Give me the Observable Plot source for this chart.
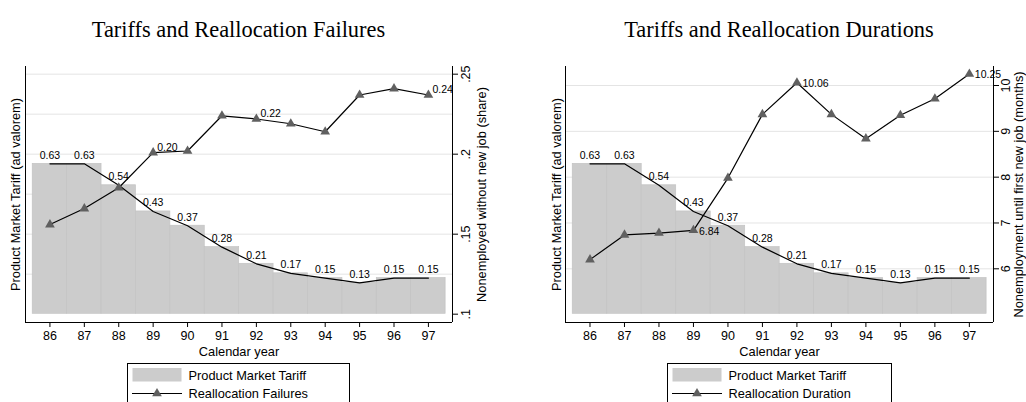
<!DOCTYPE html>
<html><head><meta charset="utf-8">
<script src="https://cdn.jsdelivr.net/npm/d3@7"></script>
<script src="https://cdn.jsdelivr.net/npm/@observablehq/plot@0.6"></script>
<style>
body{margin:0;background:#fff;width:1026px;height:402px;overflow:hidden;font-family:"Liberation Sans",Arial,sans-serif;}
#root{position:relative;width:1026px;height:402px;overflow:hidden;}
.panel{position:absolute;top:0;width:513px;height:402px;}
.title{position:absolute;top:19px;font-family:"Liberation Serif","Times New Roman",serif;font-size:22.4px;line-height:22px;white-space:nowrap;transform:translateX(-50%);color:#000;}
</style></head><body><div id="root"></div>
<script>
// ---- data ----
const years = [86, 87, 88, 89, 90, 91, 92, 93, 94, 95, 96, 97];
const tariff = [0.63, 0.63, 0.54, 0.43, 0.37, 0.28, 0.21, 0.17, 0.15, 0.13, 0.15, 0.15];
const failures = [0.156, 0.166, 0.179, 0.201, 0.202, 0.224, 0.222, 0.219, 0.214, 0.237, 0.241, 0.237];
const failureLabels = ["", "", "", "0.20", "", "", "0.22", "", "", "", "", "0.24"];
const duration = [6.20, 6.74, 6.78, 6.84, 7.98, 9.37, 10.06, 9.37, 8.84, 9.35, 9.71, 10.25];
const durationLabels = ["", "", "", "6.84", "", "", "10.06", "", "", "", "", "10.25"];
const failureTicks = [0.1, 0.15, 0.2, 0.25];
const failureGrid = [0.125, 0.15, 0.175, 0.2, 0.225, 0.25];
const durationTicks = [6, 7, 8, 9, 10];
const durationGrid = [6, 7, 8, 9, 10];
const titles = ["Tariffs and Reallocation Failures", "Tariffs and Reallocation Durations"];
const xTitle = "Calendar year";
const leftTitle = "Product Market Tariff (ad valorem)";
const rightTitles = ["Nonemployed without new job (share)", "Nonemployment until first new job (months)"];
const legendLabels = ["Product Market Tariff", "Reallocation Failures", "Reallocation Duration"];

// ---- layout ----
const xDomain = [85.29, 97.70];
const tariffDomain = [-0.0366, 1.039];
const FONT = "'Liberation Sans', Arial, sans-serif";
const root = document.getElementById("root");

function layer(panel, opts) {
  const svg = Plot.plot(opts);
  svg.style.position = "absolute";
  svg.style.left = "0px";
  svg.style.top = "0px";
  panel.appendChild(svg);
}

function makePanel(cfg) {
  const panel = document.createElement("div");
  panel.className = "panel";
  panel.style.left = cfg.left + "px";
  root.appendChild(panel);
  const common = {
    width: 513, height: 402, marginTop: 66, marginBottom: 80,
    marginLeft: cfg.ml, marginRight: cfg.mr,
    style: {background: "transparent", fontFamily: FONT, fontSize: "12.5px", color: "#000", overflow: "visible"}
  };
  const tRows = years.map((year, i) => ({year, v: tariff[i]}));
  const sRows = years.map((year, i) => ({year, v: cfg.series[i], label: cfg.labels[i]}));

  // gridlines (secondary scale)
  layer(panel, {...common, x: {domain: xDomain, axis: null}, y: {domain: cfg.rDomain, axis: null},
    marks: [Plot.ruleY(cfg.grid, {stroke: "#e4e4e4", strokeWidth: 1})]});

  // tariff bars + line
  layer(panel, {...common, x: {domain: xDomain}, y: {domain: tariffDomain, axis: null},
    marks: [
      Plot.rectY(tRows, {x1: d => d.year - 0.5, x2: d => d.year + 0.5, y1: 0, y2: "v", fill: "#cccccc", stroke: "#c3c3c3", strokeWidth: 0.7}),
      Plot.line(tRows, {x: "year", y: "v", stroke: "#000", strokeWidth: 1.2}),
      Plot.text(tRows, {x: "year", y: "v", text: d => d.v.toFixed(2), dy: -5, lineAnchor: "bottom", fontSize: 10.5}),
      Plot.ruleY([tariffDomain[0]], {stroke: "#000", strokeWidth: 1}),
      Plot.ruleX([xDomain[0]], {stroke: "#000", strokeWidth: 1}),
      Plot.axisX(years, {tickSize: 5, tickFormat: d => String(d), fontSize: 12.5, label: null}),
      Plot.text([xTitle], {text: d => d, frameAnchor: "bottom", dy: 29, lineAnchor: "middle", fontSize: 12.8}),
      Plot.text([leftTitle], {text: d => d, frameAnchor: "left", dx: cfg.ltdx, rotate: -90, textAnchor: "middle", lineAnchor: "middle", fontSize: 12.8})
    ]});

  // secondary series + right axis
  layer(panel, {...common, x: {domain: xDomain, axis: null}, y: {domain: cfg.rDomain},
    marks: [
      Plot.line(sRows, {x: "year", y: "v", stroke: "#000", strokeWidth: 1.2}),
      Plot.dot(sRows, {x: "year", y: "v", symbol: "triangle", r: 3.6, fill: "#606060", stroke: "none"}),
      Plot.text(sRows.filter(d => d.label), {x: "year", y: "v", text: "label", textAnchor: "start", dx: cfg.ldx, dy: cfg.ldy, lineAnchor: cfg.lla, fontSize: 10.5}),
      Plot.ruleX([xDomain[1]], {stroke: "#000", strokeWidth: 1}),
      Plot.axisY(cfg.ticks, {anchor: "right", tickSize: 5, tickPadding: cfg.tp, tickRotate: -90, textAnchor: "middle", lineAnchor: "top", tickFormat: cfg.fmt, fontSize: 12.5, label: null}),
      Plot.text([cfg.rightTitle], {text: d => d, frameAnchor: "right", dx: cfg.rtdx, rotate: -90, textAnchor: "middle", lineAnchor: "middle", fontSize: 12.8})
    ]});

  // title
  const t = document.createElement("div");
  t.className = "title";
  t.style.left = (cfg.left + (cfg.ml + 513 - cfg.mr) / 2) + "px";
  t.textContent = cfg.title;
  root.appendChild(t);

  // legend
  const L = cfg.legLeft, W = cfg.legWidth;
  const svg = d3.create("svg").attr("width", W).attr("height", 40)
    .style("position", "absolute").style("left", L + "px").style("top", "363px")
    .style("font-family", FONT).style("font-size", "12.8px");
  svg.append("rect").attr("x", 0.5).attr("y", 0.5).attr("width", W - 1).attr("height", 60).attr("fill", "#fff").attr("stroke", "#000");
  svg.append("rect").attr("x", 5.5).attr("y", 5).attr("width", 49).attr("height", 13.5).attr("fill", "#cccccc");
  svg.append("text").attr("x", 61.5).attr("y", 16.6).text(legendLabels[0]);
  svg.append("line").attr("x1", 5).attr("x2", 55).attr("y1", 30.5).attr("y2", 30.5).attr("stroke", "#000").attr("stroke-width", 1.2);
  svg.append("path").attr("transform", "translate(30,30.5)").attr("d", d3.symbol(d3.symbolTriangle, Math.PI * 3.6 * 3.6)()).attr("fill", "#606060");
  svg.append("text").attr("x", 61.5).attr("y", 34.8).text(cfg.legLabel);
  root.appendChild(svg.node());
}

const shareFmt = d => d3.format(".2~f")(d).replace(/^0/, "");

makePanel({left: 0, ml: 25, mr: 61, rDomain: [0.0948, 0.2548], series: failures, labels: failureLabels,
  grid: failureGrid, ticks: failureTicks, fmt: shareFmt, tp: 4, ldx: 4, ldy: -2, lla: "bottom",
  ltdx: -10, rtdx: 29, rightTitle: rightTitles[0], title: titles[0],
  legLeft: 127, legWidth: 223, legLabel: legendLabels[1]});

makePanel({left: 513, ml: 52, mr: 33, rDomain: [4.828, 10.415], series: duration, labels: durationLabels,
  grid: durationGrid, ticks: durationTicks, fmt: d => String(d), tp: 3, ldx: 5.5, ldy: 1, lla: "middle",
  ltdx: -9, rtdx: 25, rightTitle: rightTitles[1], title: titles[1],
  legLeft: 667, legWidth: 225, legLabel: legendLabels[2]});
</script></body></html>
